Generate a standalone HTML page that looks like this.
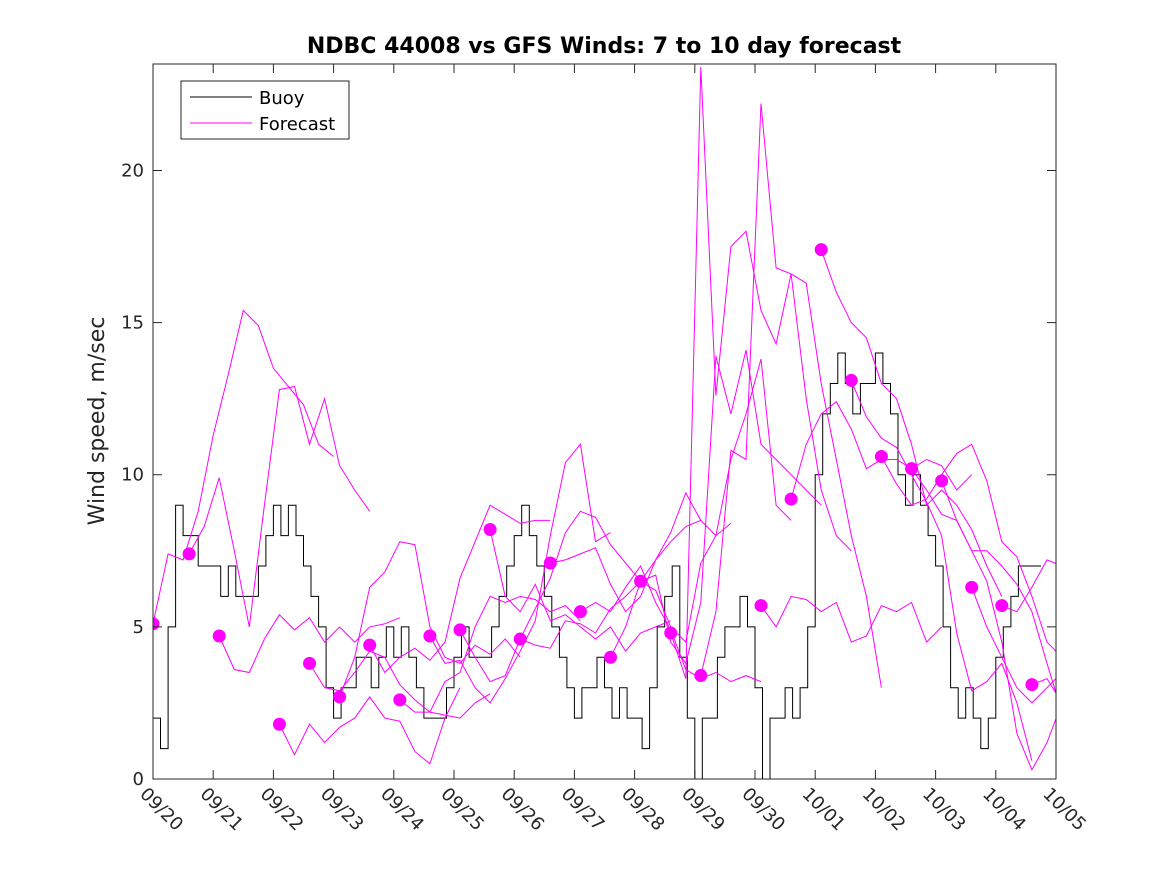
<!DOCTYPE html>
<html><head><meta charset="utf-8"><style>
html,body{margin:0;padding:0;background:#fff;}
svg{display:block;font-family:"DejaVu Sans","Liberation Sans",sans-serif;}
</style></head><body>
<svg id="chart" width="1167" height="875" viewBox="0 0 1167 875">
<defs><clipPath id="pc"><rect x="153" y="64" width="903" height="715"/></clipPath></defs>
<rect x="0" y="0" width="1167" height="875" fill="#fff"/>
<text x="604" y="53" text-anchor="middle" font-size="22" font-weight="bold">NDBC 44008 vs GFS Winds: 7 to 10 day forecast</text>
<text transform="translate(104,421) rotate(-90)" text-anchor="middle" font-size="22" fill="#262626">Wind speed, m/sec</text>
<g id="series" clip-path="url(#pc)"></g>
<g id="axes"></g>
<g>
<rect x="181" y="81" width="168" height="58" fill="#fff" stroke="#262626" stroke-width="1"/>
<line x1="190" y1="97" x2="252" y2="97" stroke="#000" stroke-width="1"/>
<text x="259" y="104" font-size="18" fill="#000">Buoy</text>
<line x1="190" y1="123" x2="252" y2="123" stroke="#f0f" stroke-width="1"/>
<text x="259" y="130" font-size="18" fill="#000">Forecast</text>
</g>
</svg>
<script>
const xTickLabels = ["09/20","09/21","09/22","09/23","09/24","09/25","09/26","09/27","09/28","09/29","09/30","10/01","10/02","10/03","10/04","10/05"];
const yTicks = [0,5,10,15,20];
// buoy, 3-hourly, starting 09/20 00Z
const buoy = [2,1,5,9,8,8,7,7, 7,6,7,6,6,6,7,8, 9,8,9,8,7,6,5,3, 2,3,3,4,4,3,4,5,
 4,5,4,3,2,2,2,3, 4,5,4,4,4,5,6,7, 8,9,8,7,6,5,4,3, 2,3,3,4,3,2,3,2,
 2,1,3,5,6,7,4,2, 0,2,2,4,5,5,6,5, 3,0,2,2,3,2,3,5, 10,12,13,14,13,12,13,13,
 14,13,12,10,9,10,9,8, 7,5,3,2,3,2,1,2, 4,5,6,7,7,7];
// forecast segment start days (offset from 09/20) and 6-hourly values
const fcStarts = [0,0.6,1.1,2.1,2.6,3.1,3.6,4.1,4.6,5.1,5.6,6.1,6.6,7.1,7.6,8.1,8.6,9.1,10.1,10.6,11.1,11.6,12.1,12.6,13.1,13.6,14.1,14.6];
const fcValues = [
[5.1,7.4,7.2,8.8,11.3,13.3,15.4,14.9,13.5,12.9,12.3,11.0,10.6],
[7.4,8.3,9.9,7.5,5.0,9.0,12.8,12.9,11.0,12.5,10.3,9.5,8.8],
[4.7,3.6,3.5,4.6,5.4,4.9,5.3,4.5,5.0,4.5,5.0,5.1,5.3],
[1.8,0.8,1.8,1.2,1.7,2.0,2.7,2.0,1.9,0.9,0.5,2.0,3.0],
[3.8,3.0,2.9,3.5,4.2,4.0,3.1,2.6,2.2,2.1,2.0,2.5,2.8],
[2.7,4.0,6.3,6.8,7.8,7.7,5.0,4.0,3.8,4.4,4.1,4.6,4.0],
[4.4,3.5,4.0,4.3,3.9,4.5,6.6,7.8,9.0,8.7,8.4,8.5,8.5],
[2.6,2.2,2.2,3.2,3.5,5.0,6.0,5.8,6.0,5.9,5.5,5.7,5.2],
[4.7,3.8,3.9,3.0,2.5,3.3,4.2,5.2,8.0,10.4,11.0,7.8,8.1],
[4.9,4.0,3.2,3.4,4.6,5.6,6.6,8.1,8.8,8.6,7.7,7.1,6.5],
[8.2,6.0,5.5,6.4,5.2,5.4,5.0,4.6,5.0,4.2,4.8,5.0,5.2],
[4.6,4.4,4.3,5.2,5.1,4.8,5.6,6.0,6.5,7.2,7.8,8.3,8.5],
[7.1,7.2,7.4,7.6,6.4,5.5,6.0,7.2,8.1,9.4,8.5,8.0,8.4],
[5.5,5.8,5.5,6.3,7.0,5.8,4.9,3.6,3.3,3.5,3.2,3.4,3.2],
[4.0,5.0,6.5,6.2,5.0,4.5,7.1,8.0,10.5,12.0,13.8,9.0,8.5],
[6.5,6.7,4.5,3.8,5.8,13.9,12.0,14.1,11.0,10.5,10.0,9.5,9.0],
[4.8,3.3,23.4,12.6,17.5,18.0,15.4,14.3,16.6,12.5,9.5,8.0,7.5],
[3.4,5.5,10.8,10.5,22.2,16.8,16.6,16.3,13.0,10.5,8.0,6.0,3.0],
[5.7,5.0,6.0,5.9,5.5,5.8,4.5,4.7,5.7,5.5,5.8,4.5,5.0],
[9.2,11.0,12.0,12.4,11.5,10.2,10.5,10.5,10.2,10.5,10.3,9.5,10.0],
[17.4,16.0,15.0,14.5,13.0,12.5,11.0,9.0,9.5,9.0,8.2,7.0,6.0],
[13.1,11.9,11.2,10.9,10.0,9.1,8.0,4.8,2.9,3.2,3.8,2.5,0.6],
[10.6,9.7,9.0,9.2,10.0,10.7,11.0,9.8,7.8,7.3,6.0,4.5,4.0],
[10.2,9.5,8.7,8.5,7.5,6.5,4.5,1.5,0.3,1.2,2.5,2.0,1.5],
[9.8,8.5,7.5,7.5,7.0,6.4,5.5,3.8,2.2,1.8,3.2,3.5,2.2],
[6.3,5.0,4.0,3.0,2.5,3.0,3.5,4.5,5.5,6.5,7.0,6.5,6.5],
[5.7,5.5,6.3,7.2,7.0,6.6,6.4,6.6,6.5],
[3.1,3.3,2.5,2.4,2.4,2.3,1.0,1.3]
];
const NS="http://www.w3.org/2000/svg";
const X0=153,X1=1056,Y0=779,Y1=64,DAYS=15,YMAX=23.5;
const xs=d=>X0+(X1-X0)*d/DAYS;
const ys=v=>Y0-(Y0-Y1)*v/YMAX;
const series=document.getElementById('series');
const axes=document.getElementById('axes');
function mk(tag,attrs,parent){const e=document.createElementNS(NS,tag);for(const k in attrs)e.setAttribute(k,attrs[k]);parent.appendChild(e);return e;}
let d="";
buoy.forEach((v,i)=>{const xa=xs(i/8),xb=xs((i+1)/8);d+=(i?"L":"M")+xa.toFixed(1)+","+ys(v).toFixed(1)+"L"+xb.toFixed(1)+","+ys(v).toFixed(1);});
const bl=mk('path',{d:d,fill:"none",stroke:"#000","stroke-width":1},series);


fcValues.forEach((vals,k)=>{
  const s=fcStarts[k];
  const pts=vals.map((v,i)=>xs(s+i*0.25).toFixed(1)+","+ys(v).toFixed(1)).join(" ");
  const pl=mk('polyline',{points:pts,fill:"none",stroke:"#f0f","stroke-width":1},series);
  
  
});
fcValues.forEach((vals,k)=>{
  const c=mk('circle',{cx:xs(fcStarts[k]),cy:ys(vals[0]),r:6.5,fill:"#f0f"},series);
  
  
});
const fr=mk('rect',{x:X0,y:Y1,width:X1-X0,height:Y0-Y1,fill:"none",stroke:"#262626","stroke-width":1},axes);


xTickLabels.forEach((lab,i)=>{
  const x=xs(i);
  mk('line',{x1:x,y1:Y0,x2:x,y2:Y0-9,stroke:"#262626"},axes);
  mk('line',{x1:x,y1:Y1,x2:x,y2:Y1+9,stroke:"#262626"},axes);
  const t=mk('text',{transform:`translate(${x-14},${Y0+16}) rotate(45)`,"font-size":18,fill:"#262626"},axes);
  t.textContent=lab;
  
  
});
yTicks.forEach(v=>{
  const y=ys(v);
  mk('line',{x1:X0,y1:y,x2:X0+9,y2:y,stroke:"#262626"},axes);
  mk('line',{x1:X1,y1:y,x2:X1-9,y2:y,stroke:"#262626"},axes);
  const t=mk('text',{x:X0-9,y:y+6,"text-anchor":"end","font-size":18,fill:"#262626"},axes);
  t.textContent=v;
  
  
});
</script>
</body></html>
